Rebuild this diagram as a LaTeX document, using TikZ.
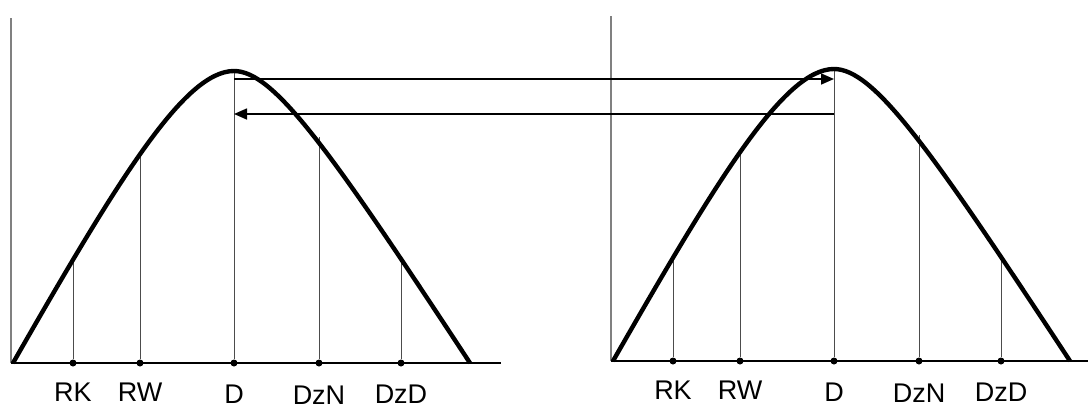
\documentclass[tikz,border=0pt]{standalone}
\usepackage{fontspec}
\setmainfont{Liberation Sans}
\usetikzlibrary{arrows.meta}

\begin{document}
\begin{tikzpicture}[x=1pt, y=-1pt,
    axis/.style={draw=gray, line width=1.6pt},
    baseline/.style={line width=1.8pt},
    curve/.style={line width=4.4pt, line join=round},
    markline/.style={draw=gray!60!black, line width=0.9pt},
    dot/.style={circle, fill, inner sep=0pt, minimum size=7pt},
    lbl/.style={anchor=base, inner sep=0pt, font=\fontsize{27}{30}\selectfont},
    link/.style={-{Triangle[length=13pt, width=11pt]}, line width=1.6pt}]
    \useasboundingbox (0,0) rectangle (1088,408);

    % two panels, the right one shifted
    \foreach \side/\dx/\dy/\xend in {l/0/0/501, r/600/-2/488} {
    \begin{scope}[shift={(\dx,\dy)}, name prefix=\side-]
        \coordinate (O) at (11,363);
        \coordinate (ytop) at (11,18);
        \coordinate (xend) at (\xend,363);
        \draw[axis] (O) -- (ytop);
        \foreach \mk/\mx/\my/\ly in {RK/73/258/401, RW/140/152/401, D/234/72/403, DzN/319/137/404, DzD/401/256/403} {
            \node[dot] (\mk) at (\mx,363) {};
            \coordinate (\mk-top) at (\mx,\my);
            \draw[markline] (\mk) -- (\mk-top);
            \node[lbl] (\mk-lbl) at (\mx,\ly) {\mk};
        }
        \draw[curve] (13,363) .. controls (120,176) and (185,71) .. (234,71)
                     .. controls (274,71) and (330,150) .. (470,363);
        \draw[baseline] (O) -- (xend);
        \coordinate (Dup) at (234,79);
        \coordinate (Ddown) at (234,114);
    \end{scope}
    }

    % transfer arrows between the D lines
    \draw[link] (l-Dup) -- (l-Dup -| r-D);
    \draw[link] (l-Ddown -| r-D) -- (l-Ddown);
\end{tikzpicture}
\end{document}
